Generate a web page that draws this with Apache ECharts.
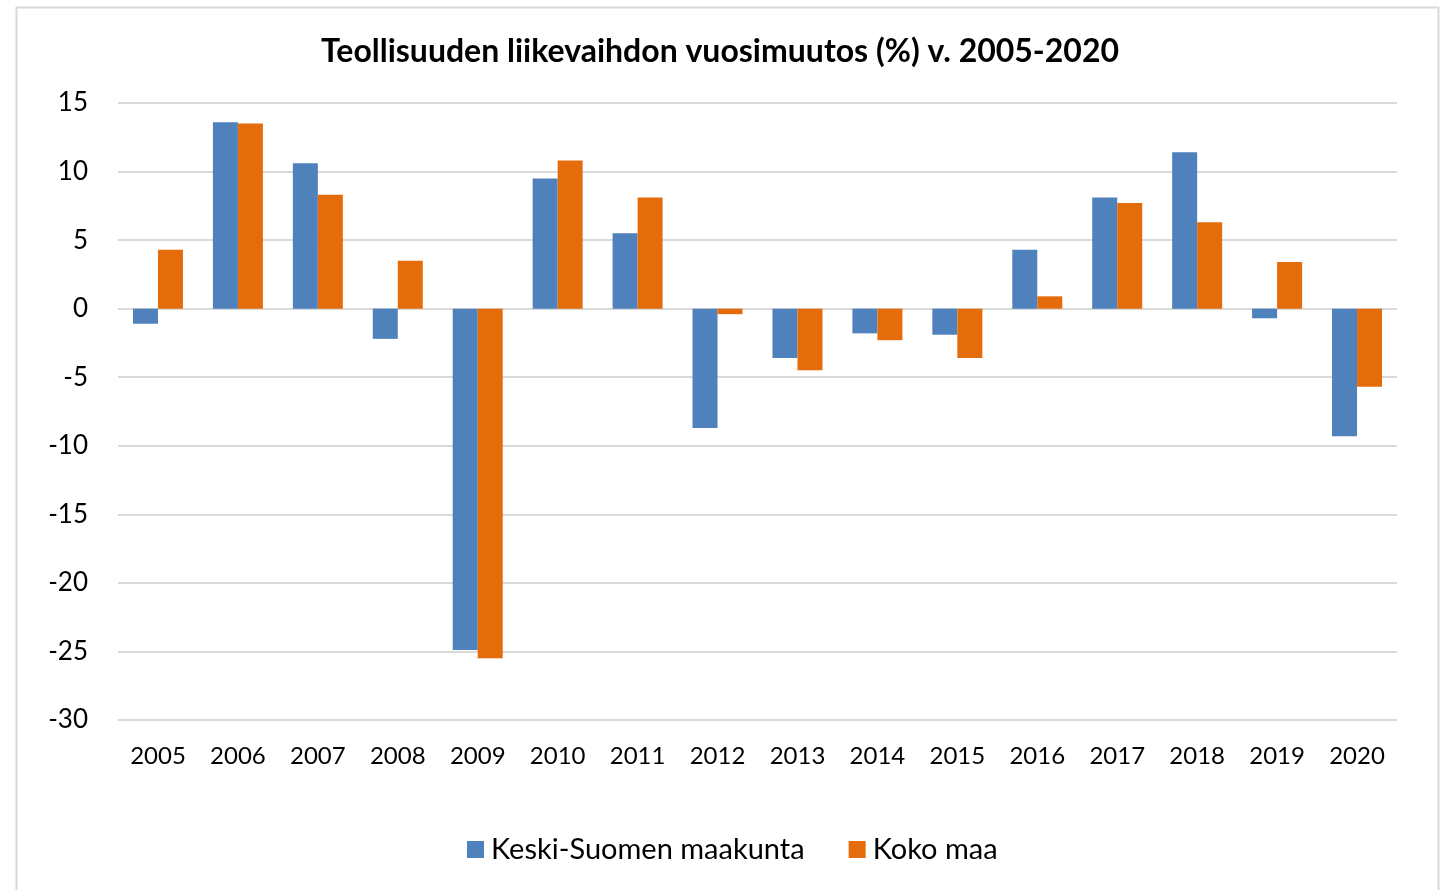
<!DOCTYPE html>
<html>
<head>
<meta charset="utf-8">
<script src="https://cdn.jsdelivr.net/npm/echarts@6/dist/echarts.min.js"></script>
<style>
html,body{margin:0;padding:0;background:#fff;}
#chart{width:1440px;height:890px;}
</style>
</head>
<body>
<div id="chart"></div>
<script>
const years = ['2005','2006','2007','2008','2009','2010','2011','2012','2013','2014','2015','2016','2017','2018','2019','2020'];
const keskiSuomi = [-1.1, 13.6, 10.6, -2.2, -24.9, 9.5, 5.5, -8.7, -3.6, -1.8, -1.9, 4.3, 8.1, 11.4, -0.7, -9.3];
const kokoMaa = [4.3, 13.5, 8.3, 3.5, -25.5, 10.8, 8.1, -0.4, -4.5, -2.3, -3.6, 0.9, 7.7, 6.3, 3.4, -5.7];
const seriesNames = ['Keski-Suomen maakunta', 'Koko maa'];
const titleText = 'Teollisuuden liikevaihdon vuosimuutos (%) v. 2005-2020';

const FONT = 'Lato, "Open Sans", sans-serif';
const chart = echarts.init(document.getElementById('chart'), null, {renderer: 'canvas'});
chart.setOption({
  animation: false,
  backgroundColor: '#fff',
  graphic: [{
    type: 'rect', left: 14, top: 5,
    shape: {width: 1422, height: 900},
    style: {fill: 'none', stroke: '#d9d9d9', lineWidth: 2},
    silent: true, z: -1
  }],
  title: {
    text: titleText, left: 'center', top: 31,
    textStyle: {fontFamily: FONT, fontWeight: 'bold', fontSize: 32, color: '#000'}
  },
  legend: {
    data: seriesNames, bottom: 21, left: 462,
    itemWidth: 17, itemHeight: 17, itemGap: 44,
    icon: 'rect',
    textStyle: {fontFamily: FONT, fontSize: 29, color: '#000', padding: [0,0,0,2]}
  },
  grid: {left: 118, right: 43, top: 103, bottom: 170, containLabel: false},
  xAxis: {
    type: 'category', data: years,
    axisLine: {show: false, onZero: false},
    axisTick: {show: false},
    axisLabel: {fontFamily: FONT, fontSize: 24, color: '#000', margin: 24}
  },
  yAxis: {
    type: 'value', min: -30, max: 15, interval: 5,
    axisLine: {show: false}, axisTick: {show: false},
    splitLine: {lineStyle: {color: '#d9d9d9', width: 2}},
    axisLabel: {fontFamily: FONT, fontSize: 26, color: '#000', margin: 30}
  },
  series: [
    {name: seriesNames[0], type: 'bar', data: keskiSuomi, barWidth: 25, barGap: '0%',
     itemStyle: {color: '#4f81bd'}},
    {name: seriesNames[1], type: 'bar', data: kokoMaa, barWidth: 25, barGap: '0%',
     itemStyle: {color: '#e46c0a'}}
  ]
});
</script>
</body>
</html>
